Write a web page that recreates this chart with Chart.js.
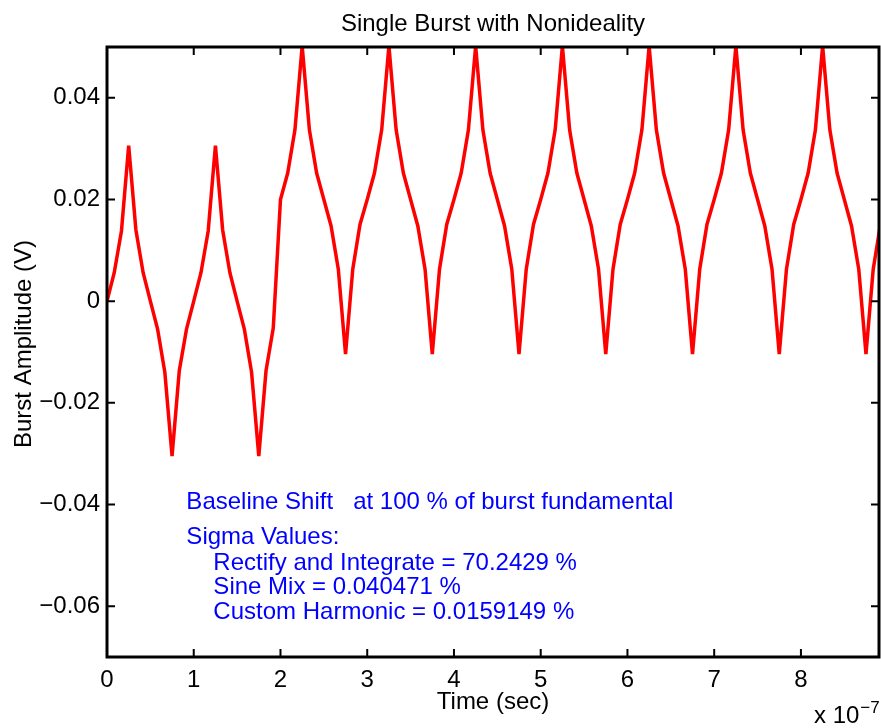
<!DOCTYPE html>
<html><head><meta charset="utf-8">
<script src="https://cdn.jsdelivr.net/npm/chart.js@4.4.0/dist/chart.umd.min.js"></script>
<style>html,body{margin:0;padding:0;background:#fff;}canvas{display:block;}</style>
</head><body>
<canvas id="c" width="881" height="728"></canvas>
<script>
// time in units of 1e-7 s
const timeE7 = [
 0, 0.0833, 0.1667, 0.25, 0.3333, 0.4167, 0.5, 0.5833, 0.6667, 0.75, 0.8333, 0.9167,
 1, 1.0833, 1.1667, 1.25, 1.3333, 1.4167, 1.5, 1.5833, 1.6667, 1.75, 1.8333, 1.9167,
 2, 2.0833, 2.1667, 2.25, 2.3333, 2.4167, 2.5, 2.5833, 2.6667, 2.75, 2.8333, 2.9167,
 3, 3.0833, 3.1667, 3.25, 3.3333, 3.4167, 3.5, 3.5833, 3.6667, 3.75, 3.8333, 3.9167,
 4, 4.0833, 4.1667, 4.25, 4.3333, 4.4167, 4.5, 4.5833, 4.6667, 4.75, 4.8333, 4.9167,
 5, 5.0833, 5.1667, 5.25, 5.3333, 5.4167, 5.5, 5.5833, 5.6667, 5.75, 5.8333, 5.9167,
 6, 6.0833, 6.1667, 6.25, 6.3333, 6.4167, 6.5, 6.5833, 6.6667, 6.75, 6.8333, 6.9167,
 7, 7.0833, 7.1667, 7.25, 7.3333, 7.4167, 7.5, 7.5833, 7.6667, 7.75, 7.8333, 7.9167,
 8, 8.0833, 8.1667, 8.25, 8.3333, 8.4167, 8.5, 8.5833, 8.6667, 8.75, 8.8333, 8.9167
];
const burstV = [
 0, 0.0056, 0.0138, 0.0306, 0.0140, 0.0056, 0.0000, -0.0055, -0.0140, -0.0305, -0.0137, -0.0055,
 0.0000, 0.0056, 0.0138, 0.0306, 0.0140, 0.0056, 0.0000, -0.0055, -0.0140, -0.0305, -0.0137, -0.0053,
 0.0200, 0.0252, 0.0337, 0.0502, 0.0337, 0.0252, 0.0200, 0.0148, 0.0063, -0.0104, 0.0063, 0.0151,
 0.0200, 0.0252, 0.0337, 0.0502, 0.0337, 0.0252, 0.0200, 0.0148, 0.0063, -0.0104, 0.0063, 0.0151,
 0.0200, 0.0252, 0.0337, 0.0502, 0.0337, 0.0252, 0.0200, 0.0148, 0.0063, -0.0104, 0.0063, 0.0151,
 0.0200, 0.0252, 0.0337, 0.0502, 0.0337, 0.0252, 0.0200, 0.0148, 0.0063, -0.0104, 0.0063, 0.0151,
 0.0200, 0.0252, 0.0337, 0.0502, 0.0337, 0.0252, 0.0200, 0.0148, 0.0063, -0.0104, 0.0063, 0.0151,
 0.0200, 0.0252, 0.0337, 0.0502, 0.0337, 0.0252, 0.0200, 0.0148, 0.0063, -0.0104, 0.0063, 0.0151,
 0.0200, 0.0252, 0.0337, 0.0502, 0.0337, 0.0252, 0.0200, 0.0148, 0.0063, -0.0104, 0.0063, 0.0151
];
const xTicks = [0, 1, 2, 3, 4, 5, 6, 7, 8];
const yTicks = [-0.06, -0.04, -0.02, 0, 0.02, 0.04];
const titleText = 'Single Burst with Nonideality';
const xLabel = 'Time (sec)';
const yLabel = 'Burst Amplitude (V)';
const xMultiplier = 'x 10';
const xExponent = '\u22127';
const annotHeader = 'Baseline Shift   at 100 % of burst fundamental';
const annotSigmaTitle = 'Sigma Values:';
const annotSigmaLines = [
 'Rectify and Integrate = 70.2429 %',
 'Sine Mix = 0.040471 %',
 'Custom Harmonic = 0.0159149 %'
];

const FONT = '"Liberation Sans", Arial, Helvetica, sans-serif';
const FS = 24;

const overlay = {
  id: 'overlay',
  afterDatasetsDraw(chart) {
    const {ctx, chartArea: a, scales: {x, y}} = chart;
    ctx.save();
    ctx.strokeStyle = '#000';
    ctx.lineWidth = 2;
    const TL = 8;
    ctx.beginPath();
    for (const v of xTicks) {
      const px = x.getPixelForValue(v);
      ctx.moveTo(px, a.bottom); ctx.lineTo(px, a.bottom - TL);
      ctx.moveTo(px, a.top); ctx.lineTo(px, a.top + TL);
    }
    for (const v of yTicks) {
      const py = y.getPixelForValue(v);
      ctx.moveTo(a.left, py); ctx.lineTo(a.left + TL, py);
      ctx.moveTo(a.right, py); ctx.lineTo(a.right - TL, py);
    }
    ctx.stroke();
    ctx.lineWidth = 3;
    ctx.strokeRect(a.left, a.top, a.right - a.left, a.bottom - a.top);

    // title
    ctx.fillStyle = '#000';
    ctx.font = FS + 'px ' + FONT;
    ctx.textAlign = 'center';
    ctx.textBaseline = 'alphabetic';
    const cx = (a.left + a.right) / 2;
    ctx.fillText(titleText, cx, 31);
    // x label
    ctx.fillText(xLabel, cx, 709);
    // multiplier
    ctx.textAlign = 'left';
    ctx.fillText(xMultiplier, 814, 723);
    const w = ctx.measureText(xMultiplier).width;
    ctx.font = '17px ' + FONT;
    ctx.fillText(xExponent, 814 + w + 1, 713);
    // y label
    ctx.font = FS + 'px ' + FONT;
    ctx.save();
    ctx.translate(24, 344);
    ctx.rotate(-Math.PI / 2);
    ctx.textAlign = 'center';
    ctx.textBaseline = 'middle';
    ctx.fillText(yLabel, 0, 0);
    ctx.restore();

    // annotations (anchored in data coordinates)
    ctx.fillStyle = '#0000ff';
    ctx.textAlign = 'left';
    ctx.textBaseline = 'alphabetic';
    const ax = x.getPixelForValue(0.915);
    const ax2 = ax + 27;
    ctx.fillText(annotHeader, ax, y.getPixelForValue(-0.0409));
    ctx.fillText(annotSigmaTitle, ax, y.getPixelForValue(-0.0477));
    annotSigmaLines.forEach((t, i) => {
      ctx.fillText(t, ax2, y.getPixelForValue(-0.0528 - i * 0.0049));
    });
    ctx.restore();
  }
};

const fmtY = v => {
  if (Math.abs(v) < 1e-12) return '0';
  return (v < 0 ? '\u2212' : '') + Math.abs(v).toFixed(2);
};

new Chart(document.getElementById('c'), {
  type: 'line',
  data: {
    datasets: [{
      data: timeE7.map((t, i) => ({x: t, y: burstV[i]})),
      borderColor: '#ff0000',
      borderWidth: 3.5,
      pointRadius: 0,
      tension: 0,
      borderJoinStyle: 'miter',
      fill: false
    }]
  },
  options: {
    responsive: false,
    animation: false,
    devicePixelRatio: 1,
    layout: {padding: {top: 47, right: 2, left: 0, bottom: 0}},
    plugins: {legend: {display: false}, tooltip: {enabled: false}, title: {display: false}},
    scales: {
      x: {
        type: 'linear', min: 0, max: 8.9,
        grid: {display: false, drawTicks: false},
        border: {display: false},
        afterBuildTicks(s) { s.ticks = xTicks.map(v => ({value: v})); },
        afterFit(s) { s.height = 71; },
        ticks: {padding: 9, color: '#000', font: {family: FONT, size: FS}, maxRotation: 0, autoSkip: false,
          callback: v => String(v)}
      },
      y: {
        type: 'linear', min: -0.07, max: 0.05,
        grid: {display: false, drawTicks: false},
        border: {display: false},
        afterBuildTicks(s) { s.ticks = yTicks.map(v => ({value: v})); },
        afterFit(s) { s.width = 107; },
        ticks: {padding: 7, color: '#000', font: {family: FONT, size: FS}, autoSkip: false,
          callback: v => fmtY(v)}
      }
    }
  },
  plugins: [overlay]
});
</script>
</body></html>
